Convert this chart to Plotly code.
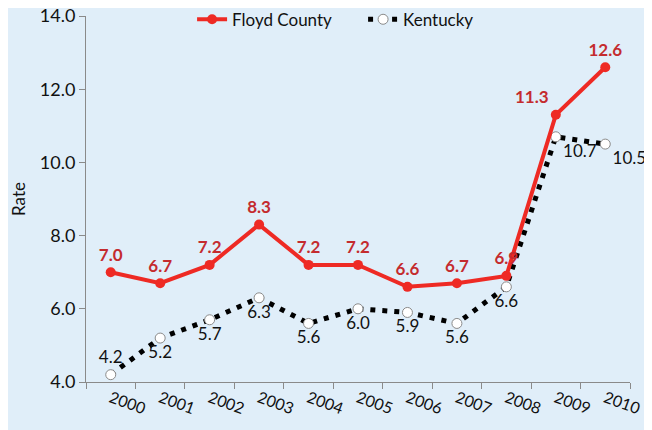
import plotly.graph_objects as go

years = ["2000", "2001", "2002", "2003", "2004", "2005", "2006", "2007", "2008", "2009", "2010"]
floyd = [7.0, 6.7, 7.2, 8.3, 7.2, 7.2, 6.6, 6.7, 6.9, 11.3, 12.6]
kentucky = [4.2, 5.2, 5.7, 6.3, 5.6, 6.0, 5.9, 5.6, 6.6, 10.7, 10.5]
y_ticks = [4.0, 6.0, 8.0, 10.0, 12.0, 14.0]

floyd_pos = ["top center"] * 9 + ["top left", "top center"]
ky_pos = ["top center"] + ["bottom center"] * 8 + ["bottom right", "bottom right"]

BG = "#E0EEF9"
FONT = "Lato, 'Open Sans', sans-serif"

fig = go.Figure()
fig.add_trace(go.Scatter(
    x=years, y=kentucky, name="Kentucky", mode="lines+markers+text",
    line=dict(color="black", width=5, dash="5px,7px"),
    marker=dict(symbol="circle", size=10, color="white", line=dict(color="#8a8a8a", width=1)),
    text=[f"{v:.1f}" for v in kentucky], textposition=ky_pos,
    textfont=dict(family=FONT, size=17, color="#111111"),
    cliponaxis=False,
))
fig.add_trace(go.Scatter(
    x=years, y=floyd, name="Floyd County", mode="lines+markers+text",
    line=dict(color="#EE2A24", width=4),
    marker=dict(symbol="circle", size=10, color="#EE2A24"),
    text=[f"<b>{v:.1f}</b>" for v in floyd], textposition=floyd_pos,
    textfont=dict(family=FONT, size=17, color="#C42B2E"),
    cliponaxis=False,
))

fig.update_layout(
    width=652, height=430,
    paper_bgcolor=BG, plot_bgcolor=BG,
    margin=dict(l=78, r=30, t=8, b=56, autoexpand=False),
    font=dict(family=FONT, size=16, color="#111111"),
    showlegend=True,
    legend=dict(orientation="h", x=0.195, xanchor="left", y=1.039, yanchor="top",
                bgcolor="rgba(0,0,0,0)", font=dict(size=17), traceorder="reversed",
                itemwidth=30, entrywidth=126),
    xaxis=dict(type="category", showgrid=False, showline=True, linecolor="#8a8a8a", linewidth=1,
               ticks="outside", ticklen=6, tickcolor="#8a8a8a", tickson="boundaries",
               tickangle=20, tickfont=dict(size=16), range=[-0.5, 10.5],
               ticklabeloverflow="allow"),
    yaxis=dict(range=[4, 14], tickvals=y_ticks, ticktext=[f"{v:.1f}" for v in y_ticks],
               showgrid=False, zeroline=False, showline=True, linecolor="#8a8a8a", linewidth=1,
               ticks="outside", ticklen=6, tickcolor="#8a8a8a", tickfont=dict(size=18),
               ticklabeloverflow="allow",
               title=dict(text="Rate", font=dict(size=17), standoff=14)),
)

fig.write_html("out.html")
